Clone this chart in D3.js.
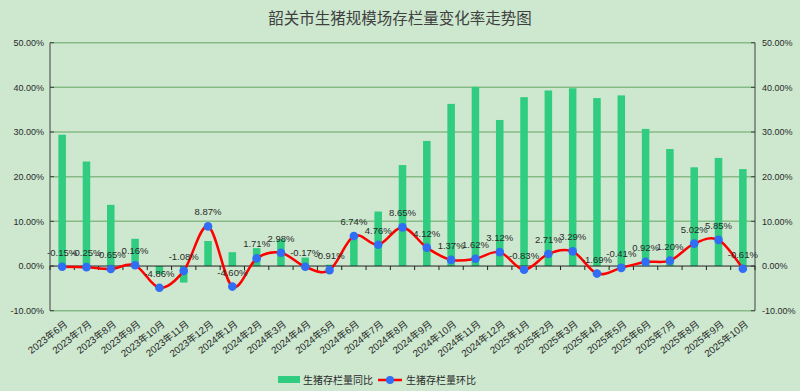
<!DOCTYPE html>
<html>
<head>
<meta charset="utf-8">
<script src="https://cdn.jsdelivr.net/npm/d3@7"></script>
<style>
  body { margin: 0; background: #cde8cf; }
  svg { display: block; }
</style>
</head>
<body>
<div id="chart"></div>
<script>
const categories = [
  "2023年6月", "2023年7月", "2023年8月", "2023年9月", "2023年10月", "2023年11月", "2023年12月",
  "2024年1月", "2024年2月", "2024年3月", "2024年4月", "2024年5月", "2024年6月", "2024年7月",
  "2024年8月", "2024年9月", "2024年10月", "2024年11月", "2024年12月",
  "2025年1月", "2025年2月", "2025年3月", "2025年4月", "2025年5月", "2025年6月", "2025年7月",
  "2025年8月", "2025年9月", "2025年10月"
];
// 同比 (bars)
const yoyValues = [
  29.4, 23.4, 13.7, 6.1, -1.8, -3.7, 5.6,
  3.1, 4.0, 6.0, 1.9, 0.3, 6.6, 12.2,
  22.6, 28.0, 36.3, 40.1, 32.7,
  37.8, 39.3, 39.8, 37.6, 38.2, 30.7, 26.2,
  22.1, 24.2, 21.7
];
// 环比 (line), from data labels
const momValues = [
  -0.15, -0.25, -0.65, 0.16, -4.86, -1.08, 8.87,
  -4.60, 1.71, 2.98, -0.17, -0.91, 6.74, 4.76,
  8.65, 4.12, 1.37, 1.62, 3.12,
  -0.83, 2.71, 3.29, -1.69, -0.41, 0.92, 1.20,
  5.02, 5.85, -0.61
];
const yTicks = [-10, 0, 10, 20, 30, 40, 50];
const seriesNames = ["生猪存栏量同比", "生猪存栏量环比"];
const title = "韶关市生猪规模场存栏量变化率走势图";

const width = 800, height = 391;
const plotLeft = 50, plotRight = 755, plotTop = 42.7, plotBottom = 310.7;
const barColor = "#30cc80", lineColor = "#ff0000", dotColor = "#2f6ef5";
const textColor = "#2a2a2a";
const fontNum = "'Liberation Sans', Arial, 'Noto Sans CJK SC', sans-serif";
const fontCjk = "'Noto Sans CJK SC', 'Liberation Sans', sans-serif";

const svg = d3.select("#chart").append("svg")
  .attr("width", width)
  .attr("height", height);

svg.append("rect").attr("width", width).attr("height", height).attr("fill", "#cde8cf");

const x = d3.scaleBand().domain(categories).range([plotLeft, plotRight]);
const y = d3.scaleLinear().domain([-10, 50]).range([plotBottom, plotTop]);
const fmt = v => v.toFixed(2) + "%";
const cx = i => x(categories[i]) + x.bandwidth() / 2;

// title
svg.append("text")
  .attr("x", 400).attr("y", 24)
  .attr("text-anchor", "middle")
  .attr("font-family", fontCjk)
  .attr("font-size", 15.5)
  .attr("fill", "#404040")
  .text(title);

// gridlines
svg.append("g")
  .selectAll("line")
  .data(yTicks.filter(d => d !== 0))
  .join("line")
  .attr("x1", plotLeft).attr("x2", plotRight)
  .attr("y1", d => y(d)).attr("y2", d => y(d))
  .attr("stroke", "#86bb86")
  .attr("stroke-width", 1.5);

// bars
svg.append("g")
  .selectAll("rect")
  .data(yoyValues)
  .join("rect")
  .attr("x", (d, i) => x(categories[i]) + x.bandwidth() * 0.345)
  .attr("width", x.bandwidth() * 0.31)
  .attr("y", d => y(Math.max(0, d)))
  .attr("height", d => Math.abs(y(d) - y(0)))
  .attr("fill", barColor);

// left / right axes
const axisG = svg.append("g").attr("stroke", "#404040").attr("stroke-width", 1);
axisG.append("line").attr("x1", plotLeft).attr("x2", plotLeft).attr("y1", plotTop).attr("y2", plotBottom);
axisG.append("line").attr("x1", plotRight).attr("x2", plotRight).attr("y1", plotTop).attr("y2", plotBottom);
axisG.append("g").selectAll("line").data(yTicks).join("line")
  .attr("x1", plotLeft).attr("x2", plotLeft + 4)
  .attr("y1", d => y(d)).attr("y2", d => y(d));
axisG.append("g").selectAll("line").data(yTicks).join("line")
  .attr("x1", plotRight - 4).attr("x2", plotRight)
  .attr("y1", d => y(d)).attr("y2", d => y(d));

// zero axis with ticks at category boundaries
svg.append("line")
  .attr("x1", plotLeft).attr("x2", plotRight)
  .attr("y1", y(0)).attr("y2", y(0))
  .attr("stroke", "#222").attr("stroke-width", 1);
svg.append("g")
  .selectAll("line")
  .data(d3.range(categories.length + 1))
  .join("line")
  .attr("x1", i => plotLeft + i * x.step()).attr("x2", i => plotLeft + i * x.step())
  .attr("y1", y(0)).attr("y2", y(0) + 4)
  .attr("stroke", "#222");

// y tick labels
svg.append("g")
  .selectAll("text")
  .data(yTicks)
  .join("text")
  .attr("x", plotLeft - 6).attr("y", d => y(d))
  .attr("dy", "0.35em")
  .attr("text-anchor", "end")
  .attr("font-family", fontNum).attr("font-size", 9)
  .attr("fill", textColor)
  .text(fmt);
svg.append("g")
  .selectAll("text")
  .data(yTicks)
  .join("text")
  .attr("x", plotRight + 7).attr("y", d => y(d))
  .attr("dy", "0.35em")
  .attr("text-anchor", "start")
  .attr("font-family", fontNum).attr("font-size", 9)
  .attr("fill", textColor)
  .text(fmt);

// x labels, rotated
svg.append("g")
  .selectAll("text")
  .data(categories)
  .join("text")
  .attr("transform", (d, i) => `translate(${cx(i) + 4}, ${plotBottom + 12}) rotate(-38)`)
  .attr("text-anchor", "end")
  .attr("dy", "0.35em")
  .attr("font-family", fontNum).attr("font-size", 9.8)
  .attr("fill", textColor)
  .text(d => d);

// smoothed line
const line = d3.line()
  .x((d, i) => cx(i))
  .y(d => y(d))
  .curve(d3.curveCardinal.tension(0));

svg.append("path")
  .datum(momValues)
  .attr("d", line)
  .attr("fill", "none")
  .attr("stroke", lineColor)
  .attr("stroke-width", 2.5);

svg.append("g")
  .selectAll("circle")
  .data(momValues)
  .join("circle")
  .attr("cx", (d, i) => cx(i))
  .attr("cy", d => y(d))
  .attr("r", 4.3)
  .attr("fill", dotColor);

// data labels
svg.append("g")
  .selectAll("text")
  .data(momValues)
  .join("text")
  .attr("x", (d, i) => cx(i))
  .attr("y", d => y(d) - 11)
  .attr("text-anchor", "middle")
  .attr("font-family", fontNum).attr("font-size", 9.5)
  .attr("fill", textColor)
  .text(fmt);

// legend
const lg = svg.append("g").attr("font-family", fontCjk).attr("font-size", 10).attr("fill", textColor);
lg.append("rect").attr("x", 278).attr("y", 376).attr("width", 22).attr("height", 7).attr("fill", barColor);
lg.append("text").attr("x", 303).attr("y", 380).attr("dy", "0.35em").text(seriesNames[0]);
lg.append("line").attr("x1", 378).attr("x2", 402).attr("y1", 380).attr("y2", 380)
  .attr("stroke", lineColor).attr("stroke-width", 2.5);
lg.append("circle").attr("cx", 390).attr("cy", 380).attr("r", 4).attr("fill", dotColor);
lg.append("text").attr("x", 406).attr("y", 380).attr("dy", "0.35em").text(seriesNames[1]);
</script>
</body>
</html>
